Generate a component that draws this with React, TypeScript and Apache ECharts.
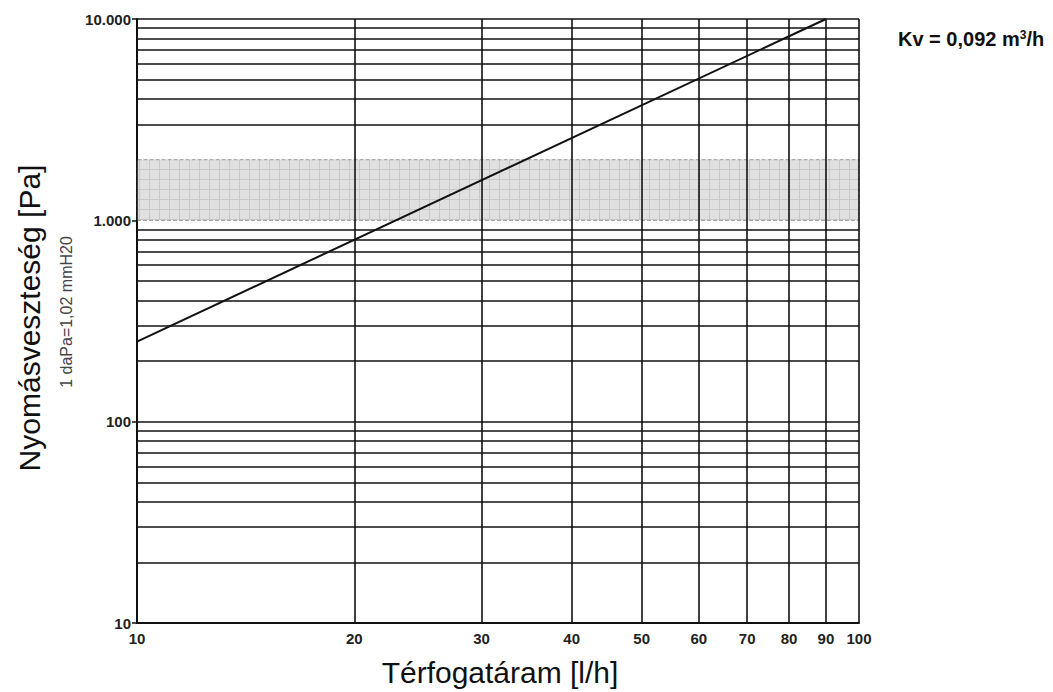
import React, { useEffect, useRef } from "react";
import * as echarts from "echarts";

const xTicks = [10, 20, 30, 40, 50, 60, 70, 80, 90, 100];
const yGridValues = [20, 30, 40, 50, 60, 70, 80, 90, 100, 200, 300, 400, 500, 600, 700, 800, 900, 3000, 4000, 5000, 6000, 7000, 8000, 9000, 10000];
const bandRange = [1000, 2000];
const curveFlow = [10, 90];
const curvePressure = [250, 10000];
const yLabels: Record<number, string> = { 10: "10", 100: "100", 1000: "1.000", 10000: "10.000" };

const FONT = "Liberation Sans, Arial, sans-serif";

function makeBandPattern(): any {
  const c = document.createElement("canvas");
  c.width = 10;
  c.height = 10;
  const ctx = c.getContext("2d");
  if (!ctx) return "#dcdcdc";
  ctx.fillStyle = "#e0e0e0";
  ctx.fillRect(0, 0, 10, 10);
  ctx.fillStyle = "#c8c8c8";
  ctx.fillRect(9, 0, 1, 10);
  ctx.fillRect(0, 9, 10, 1);
  return { image: c, repeat: "repeat" };
}

export default function App() {
  const ref = useRef<HTMLDivElement>(null);
  useEffect(() => {
    const chart = echarts.init(ref.current!, null, { renderer: "svg" });
    const lineColor = "#111";
    chart.setOption({
      animation: false,
      backgroundColor: "#fff",
      grid: { left: 137, right: 194, top: 19, bottom: 69 },
      xAxis: {
        type: "log",
        logBase: 10,
        min: 10,
        max: 100,
        axisLine: { show: true, lineStyle: { color: lineColor, width: 2 } },
        axisTick: { show: false },
        axisLabel: { show: false },
        splitLine: { show: false },
      },
      yAxis: {
        type: "log",
        logBase: 10,
        min: 10,
        max: 10000,
        axisLine: { show: true, lineStyle: { color: lineColor, width: 2 } },
        axisTick: { show: true, length: 5, lineStyle: { color: lineColor, width: 1.5 } },
        axisLabel: {
          show: true,
          margin: 6,
          fontFamily: FONT,
          fontWeight: "bold",
          fontSize: 15,
          color: "#222",
          formatter: (v: number) => yLabels[Math.round(v)] ?? "",
        },
        splitLine: { show: false },
      },
      graphic: [
        {
          type: "text",
          x: 29,
          y: 318,
          rotation: Math.PI / 2,
          style: { text: "Nyomásveszteség [Pa]", font: `30px ${FONT}`, fill: "#111", align: "center", verticalAlign: "middle" },
        },
        {
          type: "text",
          x: 66,
          y: 312,
          rotation: Math.PI / 2,
          style: { text: "1 daPa=1,02 mmH20", font: `16px ${FONT}`, fill: "#444", align: "center", verticalAlign: "middle" },
        },
        {
          type: "text",
          x: 500,
          y: 672,
          style: { text: "Térfogatáram [l/h]", font: `30px ${FONT}`, fill: "#111", align: "center", verticalAlign: "middle" },
        },
        {
          type: "text",
          x: 898,
          y: 39,
          style: {
            text: "{a|Kv = 0,092 m}{s|3}{a|/h}",
            align: "left",
            verticalAlign: "middle",
            rich: {
              a: { font: `bold 20px ${FONT}`, fill: "#111", color: "#111" },
              s: { font: `bold 12px ${FONT}`, fill: "#111", color: "#111", verticalAlign: "top", padding: [0, 0, 9, 0] },
            },
          },
        },
      ],
      series: [
        {
          type: "line",
          name: "hgrid",
          z: 1,
          data: [],
          markLine: {
            silent: true,
            symbol: "none",
            label: { show: false },
            lineStyle: { color: lineColor, width: 1.6, type: "solid" },
            data: yGridValues.map((v) => ({ yAxis: v })),
          },
        },
        {
          type: "line",
          name: "band",
          z: 2,
          data: [],
          markArea: {
            silent: true,
            itemStyle: {
              color: makeBandPattern(),
              borderColor: "#999",
              borderWidth: 1,
              borderType: "dashed",
            },
            data: [[{ yAxis: bandRange[0] }, { yAxis: bandRange[1] }]],
          },
        },
        {
          type: "line",
          name: "vgrid",
          z: 3,
          data: [],
          markLine: {
            silent: true,
            symbol: "none",
            label: {
              show: true,
              position: "start",
              distance: 8,
              fontFamily: FONT,
              fontWeight: "bold",
              fontSize: 15,
              color: "#222",
              formatter: (p: any) => String(p.value),
            },
            lineStyle: { color: lineColor, width: 1.6, type: "solid" },
            data: xTicks.map((v) => ({ xAxis: v })),
          },
        },
        {
          type: "line",
          name: "Kv",
          z: 4,
          showSymbol: false,
          symbol: "none",
          lineStyle: { color: "#111", width: 2 },
          data: curveFlow.map((q, i) => [q, curvePressure[i]]),
        },
      ],
    });
    return () => chart.dispose();
  }, []);
  return (
    <div
      ref={ref}
      style={{ position: "absolute", left: 0, top: 0, width: 1053, height: 692 }}
    />
  );
}
